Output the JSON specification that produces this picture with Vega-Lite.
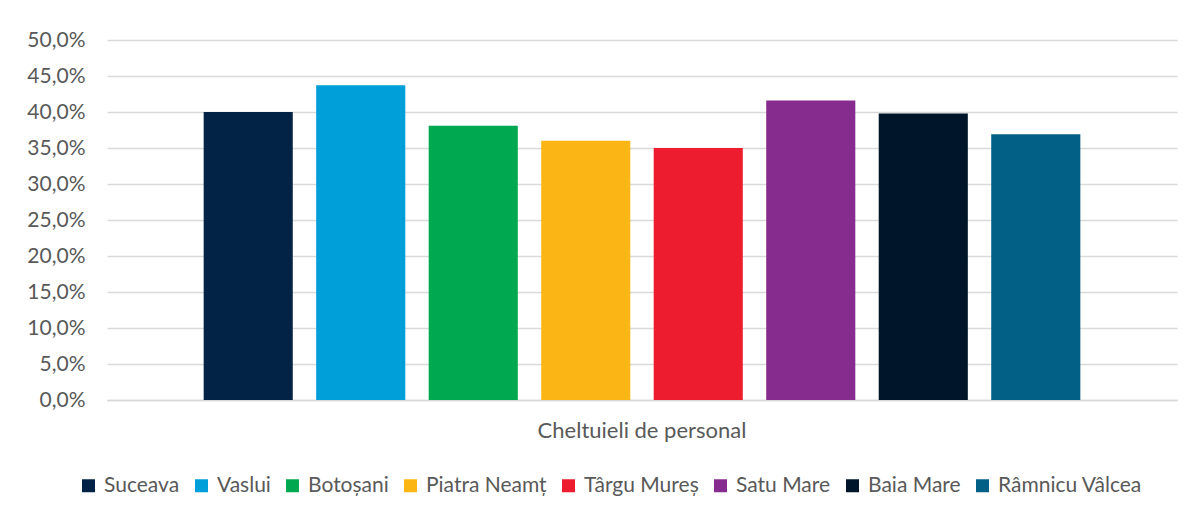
{
  "$schema": "https://vega.github.io/schema/vega-lite/v6.json",
  "width": 1070,
  "height": 360,
  "autosize": {"type": "none"},
  "padding": {"left": 107, "top": 40, "right": 18, "bottom": 116},
  "background": "white",
  "data": {
    "values": [
      {"categorie": "Cheltuieli de personal", "oras": "Suceava", "valoare": 40.0},
      {"categorie": "Cheltuieli de personal", "oras": "Vaslui", "valoare": 43.7},
      {"categorie": "Cheltuieli de personal", "oras": "Botoșani", "valoare": 38.1},
      {"categorie": "Cheltuieli de personal", "oras": "Piatra Neamț", "valoare": 36.0},
      {"categorie": "Cheltuieli de personal", "oras": "Târgu Mureș", "valoare": 35.0},
      {"categorie": "Cheltuieli de personal", "oras": "Satu Mare", "valoare": 41.6},
      {"categorie": "Cheltuieli de personal", "oras": "Baia Mare", "valoare": 39.8},
      {"categorie": "Cheltuieli de personal", "oras": "Râmnicu Vâlcea", "valoare": 36.9}
    ]
  },
  "mark": {"type": "bar"},
  "encoding": {
    "x": {
      "field": "categorie",
      "type": "nominal",
      "scale": {"paddingInner": 0, "paddingOuter": 0.0944},
      "axis": {
        "title": null,
        "labelAngle": 0,
        "labelLimit": 0,
        "labelFontSize": 22,
        "ticks": false,
        "domain": true,
        "domainColor": "#d9d9d9",
        "domainWidth": 1.3,
        "labelPadding": 20
      }
    },
    "xOffset": {
      "field": "oras",
      "type": "nominal",
      "sort": ["Suceava", "Vaslui", "Botoșani", "Piatra Neamț", "Târgu Mureș", "Satu Mare", "Baia Mare", "Râmnicu Vâlcea"],
      "scale": {"paddingInner": 0.208, "paddingOuter": 0.104}
    },
    "y": {
      "field": "valoare",
      "type": "quantitative",
      "scale": {"domain": [0, 50], "nice": false},
      "axis": {
        "title": null,
        "values": [0, 5, 10, 15, 20, 25, 30, 35, 40, 45, 50],
        "labelExpr": "replace(format(datum.value, '.1f'), '.', ',') + '%'",
        "domain": false,
        "ticks": false,
        "grid": true,
        "gridColor": "#d9d9d9",
        "gridWidth": 1.3,
        "labelPadding": 22
      }
    },
    "color": {
      "field": "oras",
      "type": "nominal",
      "scale": {
        "domain": ["Suceava", "Vaslui", "Botoșani", "Piatra Neamț", "Târgu Mureș", "Satu Mare", "Baia Mare", "Râmnicu Vâlcea"],
        "range": ["#022345", "#009FDA", "#00A94F", "#FBB615", "#ED1C2E", "#872C8F", "#001529", "#025F86"]
      },
      "legend": {
        "title": null,
        "orient": "none",
        "direction": "horizontal",
        "legendX": -29,
        "legendY": 435,
        "symbolType": "square",
        "symbolSize": 169,
        "symbolStrokeWidth": 0,
        "labelFontSize": 21,
        "labelLimit": 0,
        "labelColor": "#595959",
        "labelOffset": 5,
        "columnPadding": 11
      }
    }
  },
  "config": {
    "view": {"stroke": null},
    "font": "Lato",
    "axis": {"labelColor": "#595959", "labelFontSize": 21, "labelFont": "Lato"},
    "legend": {"labelFont": "Lato"}
  }
}
